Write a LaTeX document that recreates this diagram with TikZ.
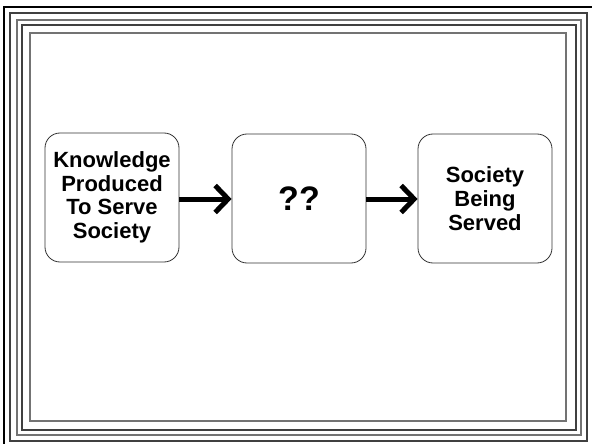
\documentclass[tikz,border=0pt]{standalone}
\usepackage{fontspec}
\setmainfont{Liberation Sans}
\usetikzlibrary{arrows.meta}
\begin{document}
\begin{tikzpicture}[x=1pt,y=-1pt,
  framebox/.style={draw=black!75,line width=1.1pt},
  stagebox/.style={draw=black!80,line width=0.8pt,rounded corners=15pt,minimum width=134pt,minimum height=129pt,align=center,inner sep=0pt,font=\bfseries\fontsize{22}{23.5}\selectfont},
  flow/.style={line width=5pt,-{Straight Barb[length=13pt,width=27pt]}}]
\useasboundingbox (0,0) rectangle (592,444);
\fill[white] (0,0) rectangle (592,444);
% frame
\draw[line width=2.2pt] (4,7) rectangle (600,452);
\draw[framebox] (10,13) rectangle (587,441);
\draw[framebox,draw=black!55] (17,20) rectangle (581,435);
\draw[framebox] (22,25) rectangle (576,430);
\draw[framebox,draw=black!55] (30,33) rectangle (566,421);
% stages
\node[stagebox] (k) at (112,197.5) {Knowledge\\Produced\\To Serve\\Society};
\node[stagebox,font=\bfseries\fontsize{34}{36}\selectfont] (q) at (299,198.5) {??};
\node[stagebox,font=\bfseries\fontsize{22}{24}\selectfont] (s) at (485,198.5) {Society\\Being\\Served};
\draw[flow] (k.east) ++(0,1.5) coordinate (a1) -- (a1 -| q.west);
\draw[flow] (q.east) ++(0,0.5) coordinate (a2) -- (a2 -| s.west);
\end{tikzpicture}
\end{document}
